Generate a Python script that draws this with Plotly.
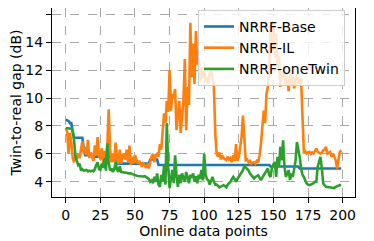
import plotly.graph_objects as go

x_points = list(range(200))

base_gap = [
    8.45, 8.40, 8.35, 8.20, 8.20, 7.60, 7.15, 7.15, 7.15, 7.15,
    7.15, 7.15, 7.15, 6.40, 5.90, 5.90, 5.90, 5.90, 5.90, 5.90,
    5.80, 5.80, 5.80, 5.80, 5.80, 5.80, 5.80, 5.80, 5.80, 5.80,
    5.80, 5.80, 5.80, 5.80, 5.80, 5.80, 5.80, 5.30, 5.30, 5.30,
    5.30, 5.30, 5.30, 5.30, 5.30, 5.30, 5.30, 5.30, 5.30, 5.30,
    5.30, 5.30, 5.30, 5.30, 5.30, 5.30, 5.30, 5.30, 5.30, 5.30,
    5.30, 5.60, 5.60, 5.60, 5.60, 5.60, 5.60, 5.20, 5.20, 5.20,
    5.20, 5.20, 5.20, 5.20, 5.20, 5.20, 5.20, 5.20, 5.20, 5.20,
    5.20, 5.20, 5.20, 5.20, 5.20, 5.20, 5.20, 5.20, 5.20, 5.20,
    5.20, 5.20, 5.20, 5.20, 5.20, 5.20, 5.20, 5.20, 5.20, 5.20,
    5.20, 5.20, 5.20, 5.20, 5.20, 5.20, 5.20, 5.20, 5.20, 5.20,
    5.20, 5.20, 5.20, 5.20, 5.20, 5.20, 5.20, 5.20, 5.20, 5.20,
    5.20, 5.20, 5.20, 5.20, 5.20, 5.20, 5.20, 5.20, 5.20, 5.20,
    5.20, 5.20, 5.20, 5.20, 5.20, 5.20, 5.20, 5.20, 5.20, 5.20,
    5.20, 5.20, 5.20, 5.20, 5.20, 5.20, 5.20, 5.20, 5.10, 5.10,
    5.10, 5.10, 5.10, 5.10, 5.10, 5.10, 5.10, 5.10, 5.10, 5.10,
    5.10, 5.10, 5.10, 5.10, 5.10, 5.10, 5.10, 5.10, 5.10, 4.95,
    4.95, 4.95, 4.95, 4.95, 4.95, 4.95, 4.95, 4.95, 4.95, 4.95,
    4.95, 4.95, 4.95, 4.95, 4.95, 4.95, 4.95, 4.95, 4.95, 4.95,
    4.95, 4.95, 4.95, 4.95, 4.95, 4.95, 4.95, 4.95, 4.95, 4.95,
]

il_gap = [
    7.85, 7.60, 6.00, 7.50, 6.80, 5.70, 5.40, 5.90, 5.60, 6.00,
    5.70, 6.20, 6.90, 6.00, 6.50, 5.90, 7.00, 5.70, 6.10, 5.80,
    5.50, 6.60, 5.90, 7.20, 5.90, 5.60, 6.40, 5.30, 6.20, 5.70,
    6.50, 9.20, 6.30, 5.40, 6.00, 5.40, 6.80, 5.70, 5.30, 6.30,
    5.30, 5.90, 6.00, 5.60, 6.30, 5.40, 6.60, 5.20, 5.80, 5.30,
    5.90, 5.60, 5.30, 5.50, 5.20, 5.07, 5.30, 5.20, 5.00, 5.30,
    4.95, 5.50, 5.80, 6.00, 5.40, 5.90, 6.00, 5.80, 6.70, 6.30,
    7.70, 8.90, 8.20, 9.80, 9.00, 12.00, 9.10, 10.30, 10.00, 10.65,
    7.70, 8.80, 9.80, 7.50, 9.00, 9.80, 12.80, 7.70, 10.80, 9.50,
    15.40, 11.50, 13.90, 11.00, 14.80, 12.40, 12.90, 11.25, 12.20, 11.40,
    11.96, 11.20, 11.50, 11.00, 11.80, 12.00, 11.50, 10.80, 7.45, 6.00,
    5.80, 6.10, 5.60, 5.90, 5.70, 5.60, 5.55, 5.80, 5.60, 5.70,
    5.40, 5.90, 5.50, 6.70, 5.50, 5.80, 6.50, 7.20, 8.75, 6.80,
    5.55, 5.60, 5.40, 5.50, 5.30, 5.35, 5.40, 5.30, 5.50, 5.40,
    5.90, 6.70, 7.90, 9.10, 8.20, 10.30, 10.80, 12.20, 15.20, 13.40,
    15.50, 12.90, 14.60, 12.00, 13.00, 10.80, 11.80, 11.50, 12.30, 10.90,
    11.50, 10.50, 11.70, 10.90, 11.60, 10.70, 11.40, 11.70, 11.00, 11.40,
    11.30, 8.00, 6.14, 6.20, 6.02, 6.10, 6.14, 6.00, 6.10, 6.02,
    6.26, 6.38, 6.14, 6.10, 6.02, 6.10, 6.26, 6.30, 6.50, 6.02,
    6.10, 6.14, 5.78, 6.02, 5.80, 5.54, 4.95, 5.54, 6.14, 6.26,
]

onetwin_gap = [
    7.85, 7.85, 7.85, 7.85, 7.80, 7.60, 6.97, 5.80, 5.40, 5.20,
    5.30, 4.80, 4.90, 4.80, 4.83, 4.85, 4.75, 4.80, 4.75, 4.80,
    4.75, 4.90, 5.20, 5.40, 4.90, 4.85, 5.30, 5.00, 5.70, 4.80,
    6.75, 5.40, 4.80, 4.95, 4.70, 4.90, 5.40, 4.90, 4.70, 5.10,
    4.70, 4.70, 4.68, 4.65, 4.65, 4.60, 4.62, 4.60, 4.55, 4.50,
    4.47, 4.45, 4.42, 4.40, 4.40, 4.40, 4.38, 4.40, 4.35, 4.30,
    4.20, 4.00, 4.10, 3.90, 4.35, 4.00, 4.60, 3.80, 3.64, 4.50,
    4.00, 5.20, 3.80, 8.20, 5.00, 3.55, 4.30, 4.85, 3.90, 5.90,
    4.40, 3.64, 4.50, 3.90, 4.60, 4.20, 4.00, 4.70, 4.35, 3.90,
    4.50, 4.30, 4.60, 4.00, 4.40, 3.90, 4.50, 4.20, 4.85, 4.10,
    6.00, 4.50, 4.20, 4.10, 3.80, 4.12, 4.35, 4.00, 3.80, 3.80,
    3.70, 3.60, 3.65, 3.70, 3.76, 3.70, 3.60, 3.80, 3.90, 4.00,
    4.20, 4.35, 4.20, 4.00, 4.20, 4.35, 4.47, 4.60, 4.83, 5.12,
    5.00, 4.90, 4.83, 4.60, 4.47, 4.30, 4.24, 4.35, 4.40, 4.47,
    4.30, 4.12, 4.30, 4.47, 4.60, 4.80, 4.95, 4.47, 4.35, 5.07,
    5.20, 5.42, 4.35, 5.78, 5.07, 6.50, 5.54, 6.97, 5.07, 4.35,
    4.60, 4.83, 4.12, 4.60, 4.35, 4.95, 5.50, 6.85, 6.40, 5.78,
    4.95, 4.50, 4.35, 4.12, 3.88, 3.80, 3.76, 3.80, 3.83, 3.90,
    4.00, 4.00, 5.07, 5.50, 5.78, 4.95, 3.88, 3.75, 3.64, 3.62,
    3.60, 3.60, 3.55, 3.52, 3.55, 3.64, 3.70, 3.70, 3.76, 3.76,
]

series_names = ["NRRF-Base", "NRRF-IL", "NRRF-oneTwin"]
series_colors = ["#1f77b4", "#ff7f0e", "#2ca02c"]
x_ticks = [0, 25, 50, 75, 100, 125, 150, 175, 200]
y_ticks = [4, 6, 8, 10, 12, 14, 16]

FONT = "DejaVu Sans"

fig = go.Figure()
for name, ys, col in zip(series_names, [base_gap, il_gap, onetwin_gap], series_colors):
    fig.add_trace(go.Scatter(x=x_points, y=ys, mode="lines", name=name,
                             line=dict(color=col, width=2.6)))

axis_common = dict(
    showline=True, linecolor="black", linewidth=1, mirror=True,
    ticks="outside", ticklen=5, tickcolor="black", tickwidth=1,
    showgrid=True, gridcolor="#a8a8a8", gridwidth=1, griddash="dash",
    zeroline=False, automargin=False,
    tickfont=dict(family=FONT, size=14, color="black"),
)

fig.update_xaxes(range=[-9.95, 208.95], tickvals=x_ticks,
                 title=dict(text="Online data points", font=dict(family=FONT, size=14, color="black"), standoff=0),
                 **axis_common)
fig.update_yaxes(range=[2.91, 16.45], tickvals=y_ticks,
                 title=dict(text="Twin-to-real gap (dB)", font=dict(family=FONT, size=14, color="black"), standoff=0),
                 **axis_common)

fig.update_layout(
    width=366, height=233,
    margin=dict(l=44, r=19, t=0, b=44),
    paper_bgcolor="white", plot_bgcolor="white",
    font=dict(family=FONT, size=14, color="black"),
    showlegend=True,
    legend=dict(x=0.967, y=0.99, xanchor="right", yanchor="top",
                bgcolor="rgba(255,255,255,0.8)", bordercolor="#cccccc", borderwidth=1,
                font=dict(family=FONT, size=14, color="black"),
                tracegroupgap=0, itemwidth=30),
)

fig.write_html("out.html")
